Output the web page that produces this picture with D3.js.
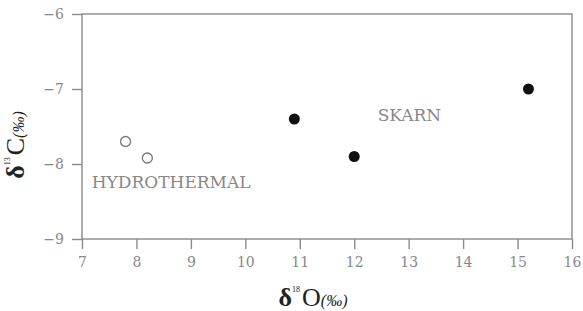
<!DOCTYPE html>
<html>
<head>
<meta charset="utf-8">
<script src="https://cdn.jsdelivr.net/npm/d3@7"></script>
<style>
  body { margin: 0; background: #fff; }
  text { font-family: "DejaVu Serif", serif; }
  .title text, text.title { font-family: "Liberation Serif", serif; }
</style>
</head>
<body>
<div id="chart"></div>
<script>
// data
const hydroO = [7.8, 8.2];
const hydroC = [-7.7, -7.92];
const skarnO = [10.9, 12.0, 15.2];
const skarnC = [-7.4, -7.9, -7.0];
const xTicks = [7, 8, 9, 10, 11, 12, 13, 14, 15, 16];
const yTicks = [-6, -7, -8, -9];

const W = 583, H = 311;
const margin = {top: 14, right: 11, bottom: 72, left: 82};
const width = W - margin.left - margin.right;
const height = H - margin.top - margin.bottom;

const svg = d3.select("#chart").append("svg")
    .attr("width", W).attr("height", H)
  .append("g")
    .attr("transform", `translate(${margin.left},${margin.top})`);

const x = d3.scaleLinear().domain([7, 16]).range([0, width]);
const y = d3.scaleLinear().domain([-9, -6]).range([height, 0]);

const axisColor = "#8a8a8a";
const labelColor = "#888";

// frame
svg.append("rect")
  .attr("width", width).attr("height", height)
  .attr("fill", "none").attr("stroke", axisColor).attr("stroke-width", 1.4);

// x axis
svg.append("g")
  .attr("transform", `translate(0,${height})`)
  .call(d3.axisBottom(x).tickValues(xTicks).tickSize(10).tickPadding(8))
  .call(g => g.select(".domain").remove())
  .call(g => g.selectAll("line").attr("stroke", axisColor).attr("stroke-width", 1.4))
  .call(g => g.selectAll("text").attr("fill", labelColor)
    .style("font-size", "14px").style("font-family", "DejaVu Serif"));

// y axis
svg.append("g")
  .call(d3.axisLeft(y).tickValues(yTicks).tickSize(10).tickPadding(8)
    .tickFormat(d => "\u2212" + Math.abs(d)))
  .call(g => g.select(".domain").remove())
  .call(g => g.selectAll("line").attr("stroke", axisColor).attr("stroke-width", 1.4))
  .call(g => g.selectAll("text").attr("fill", labelColor)
    .style("font-size", "14px").style("font-family", "DejaVu Serif"));

// points
svg.selectAll(".hydro")
  .data(hydroO)
  .join("circle")
    .attr("class", "hydro")
    .attr("cx", d => x(d))
    .attr("cy", (d, i) => y(hydroC[i]))
    .attr("r", 5)
    .attr("fill", "#fff")
    .attr("stroke", "#777")
    .attr("stroke-width", 1.3);

svg.selectAll(".skarn")
  .data(skarnO)
  .join("circle")
    .attr("class", "skarn")
    .attr("cx", d => x(d))
    .attr("cy", (d, i) => y(skarnC[i]))
    .attr("r", 5.5)
    .attr("fill", "#111");

// group labels
svg.append("text")
  .attr("x", x(7.18)).attr("y", y(-8.32))
  .attr("fill", labelColor)
  .style("font-size", "17px")
  .text("HYDROTHERMAL");

svg.append("text")
  .attr("x", x(12.43)).attr("y", y(-7.43))
  .attr("fill", labelColor)
  .style("font-size", "17px")
  .text("SKARN");

// x title
const xt = svg.append("text")
  .attr("class", "title")
  .attr("x", 313 - margin.left).attr("y", 306 - margin.top)
  .attr("text-anchor", "middle")
  .attr("fill", "#222");
xt.append("tspan").style("font-size", "26px").style("font-weight", "bold").text("\u03b4");
xt.append("tspan").style("font-size", "8px").attr("dy", -14).text("18");
xt.append("tspan").style("font-size", "26px").attr("dx", 2).attr("dy", 14).text("O");
xt.append("tspan").style("font-size", "16px").style("font-style", "italic").text("(\u2030)");

// y title
const yt = svg.append("text")
  .attr("class", "title")
  .attr("transform", `translate(${24 - margin.left},${145 - margin.top}) rotate(-90)`)
  .attr("text-anchor", "middle")
  .attr("fill", "#222");
yt.append("tspan").style("font-size", "26px").style("font-weight", "bold").text("\u03b4");
yt.append("tspan").style("font-size", "8px").attr("dy", -14).text("13");
yt.append("tspan").style("font-size", "26px").attr("dx", 2).attr("dy", 14).text("C");
yt.append("tspan").style("font-size", "16px").style("font-style", "italic").text("(\u2030)");
</script>
</body>
</html>
